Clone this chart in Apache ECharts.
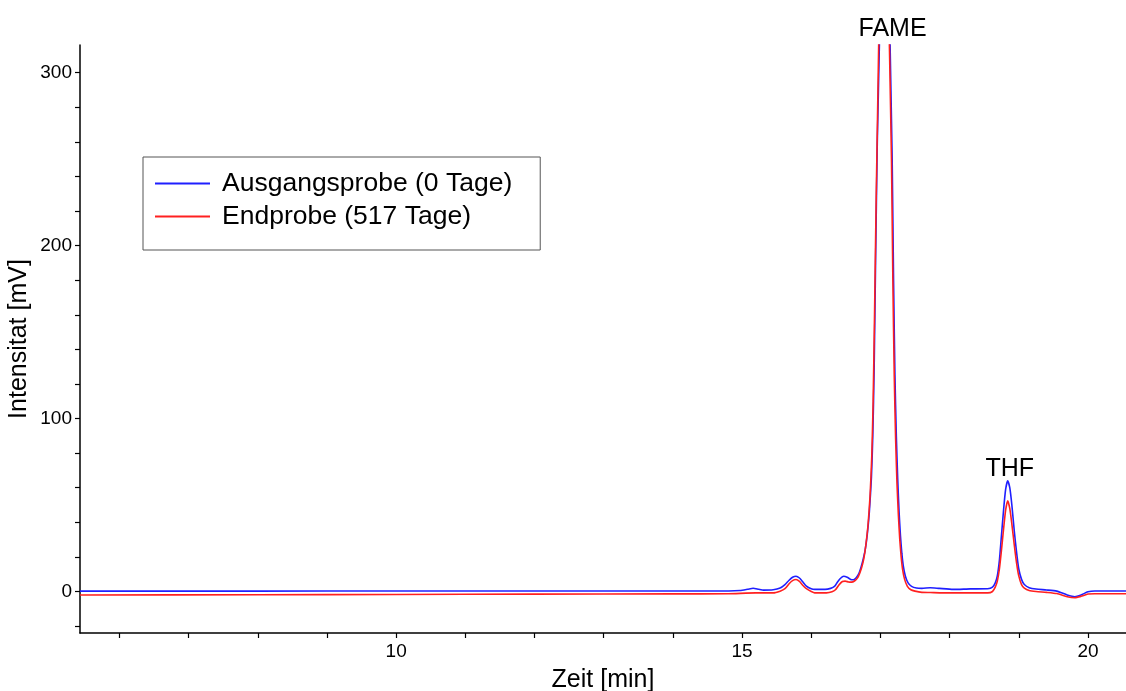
<!DOCTYPE html>
<html>
<head>
<meta charset="utf-8">
<script src="https://cdn.jsdelivr.net/npm/echarts@6/dist/echarts.min.js"></script>
<style>
html,body{margin:0;padding:0;background:#fff;}
#c{width:1126px;height:691px;}
</style>
</head>
<body>
<div id="c"></div>
<script>
// ---- data ----
const seriesNames = ['Ausgangsprobe (0 Tage)', 'Endprobe (517 Tage)'];
const blueTrace = [
[5.43,0.2],[8,0.2],[10,0.3],[12,0.3],[14,0.3],[14.6,0.3],[14.97,0.6],[15.08,1.3],[15.16,1.9],[15.24,1.3],[15.31,0.8],[15.45,1.0],[15.55,2.0],[15.62,4.0],[15.68,6.5],[15.73,8.2],[15.78,8.8],[15.83,7.8],[15.88,5.5],[15.93,3.1],[16.0,1.6],[16.05,1.2],[16.2,1.2],[16.28,1.8],[16.34,3.1],[16.38,5.5],[16.42,7.5],[16.47,8.8],[16.52,8.2],[16.57,7.0],[16.61,6.8],[16.65,8.0],[16.69,10.5],[16.72,14],[16.75,18.5],[16.78,24],[16.81,33],[16.84,46],[16.87,66],[16.89,90],[16.91,130],[16.93,190],[16.955,260],[16.985,316],[17.02,420],[17.06,500],[17.10,420],[17.14,316],[17.17,250],[17.19,180],[17.21,125],[17.23,90],[17.25,65],[17.27,46],[17.29,32],[17.31,22],[17.33,15],[17.36,9],[17.40,5],[17.45,3],[17.52,2.0],[17.6,1.8],[17.72,2.2],[17.85,1.8],[18.05,1.2],[18.3,1.5],[18.55,1.6],[18.62,2.5],[18.66,5],[18.69,9],[18.72,18],[18.745,30],[18.78,47],[18.81,59],[18.84,64],[18.87,60],[18.90,50],[18.935,35],[18.97,22],[19.0,13],[19.04,7],[19.08,4],[19.15,2.2],[19.25,1.4],[19.4,0.9],[19.55,0.2],[19.7,-2],[19.81,-3],[19.9,-2],[20.0,-0.2],[20.1,0.3],[20.55,0.3]
];
const redTrace = [
[5.43,-2.0],[8,-1.9],[10,-1.7],[12,-1.5],[14,-1.4],[14.8,-1.3],[15.2,-0.8],[15.45,-0.8],[15.55,0.2],[15.62,1.6],[15.68,4.5],[15.73,6.3],[15.78,6.9],[15.83,5.8],[15.88,3.5],[15.93,1.6],[16.0,0],[16.05,-0.8],[16.22,-0.8],[16.3,-0.2],[16.35,1.0],[16.40,3.8],[16.45,5.8],[16.49,6.0],[16.54,5.5],[16.58,5.4],[16.63,6.2],[16.67,7.9],[16.70,10.5],[16.73,14],[16.76,19],[16.79,27],[16.82,38],[16.85,55],[16.875,78],[16.895,110],[16.915,160],[16.94,230],[16.975,316],[17.01,430],[17.05,510],[17.09,430],[17.13,316],[17.16,250],[17.18,180],[17.20,125],[17.22,88],[17.24,62],[17.26,44],[17.28,30],[17.30,20],[17.32,13],[17.35,7],[17.39,3],[17.44,1],[17.5,0.2],[17.6,-0.5],[17.72,-0.6],[17.9,-0.8],[18.3,-0.8],[18.55,-0.8],[18.62,0],[18.66,2.5],[18.69,6],[18.72,13],[18.745,22],[18.78,36],[18.81,47],[18.84,52.5],[18.87,48],[18.90,39],[18.935,27],[18.97,16],[19.0,9],[19.04,4],[19.08,2],[19.15,0.6],[19.25,0],[19.4,-0.5],[19.55,-1.2],[19.7,-3],[19.81,-3.6],[19.9,-2.8],[20.0,-1.5],[20.1,-1.3],[20.55,-1.3]
];
const xTicks = [6,7,8,9,10,11,12,13,14,15,16,17,18,19,20];
const xTickLabels = [10,15,20];
const yTicks = [-20,0,20,40,60,80,100,120,140,160,180,200,220,240,260,280,300];
const yTickLabels = [0,100,200,300];
const xRange = [5.43, 20.55];
const yRange = [-24, 316];
const peakNames = ['FAME', 'THF'];
const peakTimes = [17.06, 18.84];
const peakHeights = [316, 64];

// ---- chart ----
const chart = echarts.init(document.getElementById('c'));
const font = 'Liberation Sans, Arial, sans-serif';
const blue = '#1f1fff', red = '#ff2020';
const axisCommon = {
  axisLine: {show: true, onZero: false, lineStyle: {color: '#000', width: 1.5}},
  splitLine: {show: false},
  nameMoveOverlap: false,
  nameTextStyle: {color: '#000', fontFamily: font, fontSize: 25},
};
const tickStyle = {show: true, inside: false, length: 5, lineStyle: {color: '#000', width: 1.2}};
chart.setOption({
  animation: false,
  backgroundColor: '#fff',
  grid: {left: 80, right: 0, top: 45, bottom: 58, containLabel: false, outerBoundsMode: 'none'},
  legend: {
    show: true,
    orient: 'vertical', left: 143, top: 157,
    padding: [13, 28, 20, 12],
    borderColor: '#555', borderWidth: 1,
    icon: 'rect',
    itemWidth: 55, itemHeight: 2, itemGap: 6,
    textStyle: {fontFamily: font, fontSize: 26.5, color: '#000', padding: [0, 0, 0, 7], lineHeight: 26},
    data: seriesNames
  },
  xAxis: Object.assign({}, axisCommon, {
    type: 'value', min: xRange[0], max: xRange[1],
    name: 'Zeit [min]', nameLocation: 'middle', nameGap: 35,
    axisTick: Object.assign({}, tickStyle, {customValues: xTicks}),
    axisLabel: {customValues: xTickLabels, color: '#000', fontFamily: font, fontSize: 19, margin: 9},
  }),
  yAxis: Object.assign({}, axisCommon, {
    type: 'value', min: yRange[0], max: yRange[1],
    name: 'Intensitat [mV]', nameLocation: 'middle', nameGap: 48,
    axisTick: Object.assign({}, tickStyle, {customValues: yTicks}),
    axisLabel: {customValues: yTickLabels, color: '#000', fontFamily: font, fontSize: 19, margin: 8},
  }),
  series: [
    {
      name: seriesNames[0], type: 'line', data: blueTrace, showSymbol: false, symbol: 'none',
      smooth: 0.2, clip: true,
      lineStyle: {color: blue, width: 1.6}, itemStyle: {color: blue},
      markPoint: {
        symbol: 'circle', symbolSize: 0,
        label: {show: true, position: 'top', color: '#000', fontFamily: font, fontSize: 25},
        data: peakNames.map((n, i) => ({
          name: n, coord: [peakTimes[i], peakHeights[i]], value: n,
          label: {formatter: n, distance: i === 0 ? 3 : 0, offset: i === 0 ? [8, 0] : [2, 1]}
        }))
      }
    },
    {
      name: seriesNames[1], type: 'line', data: redTrace, showSymbol: false, symbol: 'none',
      smooth: 0.2, clip: true,
      lineStyle: {color: red, width: 1.6}, itemStyle: {color: red}
    }
  ]
});
</script>
</body>
</html>
